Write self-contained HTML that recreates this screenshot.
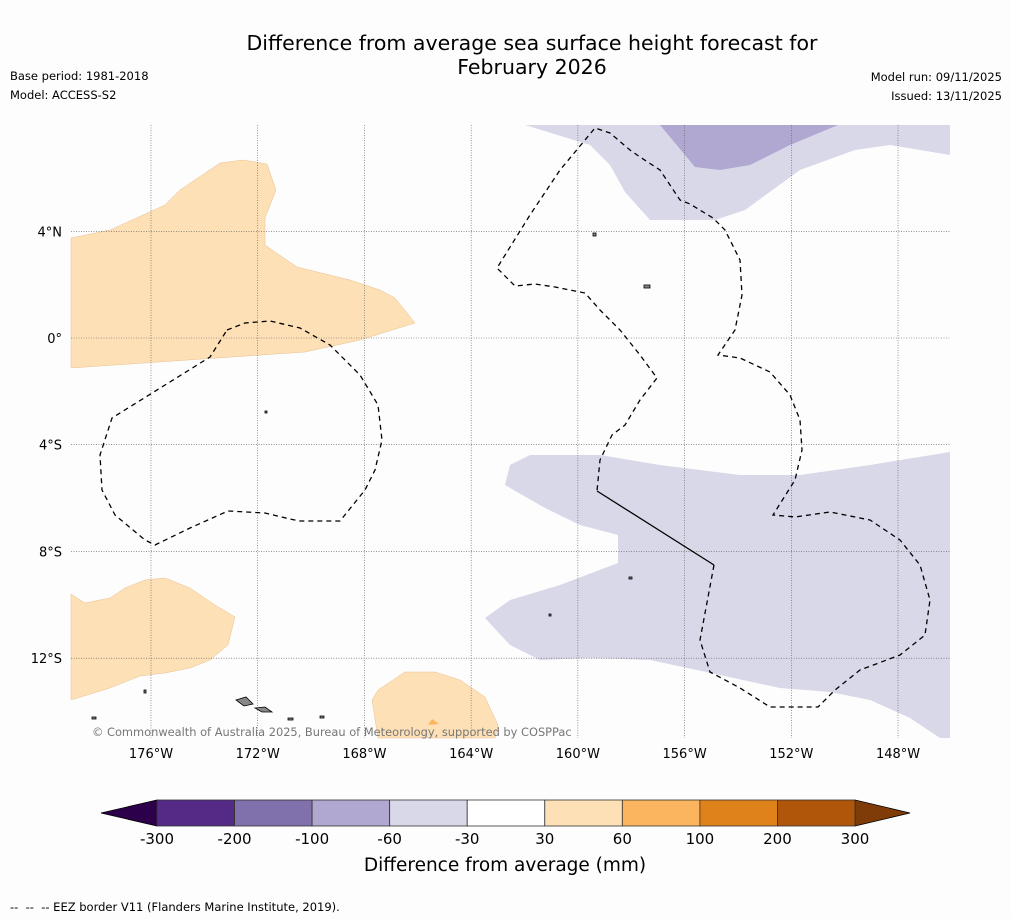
<!DOCTYPE html>
<html><head><meta charset="utf-8">
<style>
body{margin:0;background:#fdfdfd;font-family:"Liberation Sans","DejaVu Sans",sans-serif;}
#root{position:relative;width:1011px;height:919px;overflow:hidden;background:#fdfdfd;}
.t{position:absolute;font-family:"DejaVu Sans","Liberation Sans",sans-serif;color:#000;}
</style></head>
<body><div id="root">
<div class="t" style="left:182px;top:31px;width:700px;text-align:center;font-size:20.5px;line-height:24px;">Difference from average sea surface height forecast for<br>February 2026</div>
<div class="t" style="left:10px;top:69px;font-size:11.5px;">Base period: 1981-2018</div>
<div class="t" style="left:10px;top:88px;font-size:11.5px;">Model: ACCESS-S2</div>
<div class="t" style="right:9px;top:70px;font-size:11.5px;">Model run: 09/11/2025</div>
<div class="t" style="right:9px;top:89px;font-size:11.5px;">Issued: 13/11/2025</div>
<svg id="map" width="1011" height="919" style="position:absolute;left:0;top:0">
<g>
<polygon fill="#fde0b6" stroke="#e8c090" stroke-width="0.5" points="71,238 110,230 165,205 180,190 220,163 243,160 267,164 276,190 265,218 265,245 297,267 350,280 380,290 395,298 415,323 360,340 305,352 71,368"/>
<polygon fill="#fde0b6" stroke="#e8c090" stroke-width="0.5" points="71,594 85,603 110,598 125,588 145,580 165,578 190,588 215,605 235,617 228,645 210,660 190,668 165,673 140,676 110,688 71,700"/>
<polygon fill="#fde0b6" stroke="#e8c090" stroke-width="0.5" points="378,690 405,672 435,672 460,680 485,697 498,725 495,738 378,738 372,700"/>
<polygon fill="#fbb55f" points="428,725 432,719 439,724"/>
<polygon fill="#d9d8e9" points="525,125 950,125 950,155 890,145 855,150 800,170 745,210 715,220 650,220 625,192 610,165 590,145"/>
<polygon fill="#b0a8d0" points="660,125 838,125 790,145 750,165 720,170 695,167"/>
<polygon fill="#d9d8e9" points="510,465 530,455 600,455 660,465 740,475 800,475 870,465 950,452 950,738 940,738 910,718 870,700 830,692 780,688 720,675 650,660 590,658 540,660 510,645 485,618 510,600 560,585 618,563 618,535 580,525 545,508 505,485"/>
</g>
<g id="grid" stroke="#555" stroke-width="0.6" stroke-dasharray="1,1.5"></g>
<g fill="none" stroke="#000" stroke-width="1.3">
<polygon stroke-dasharray="5,4" points="227,330 245,323 270,321 300,328 330,345 360,375 378,405 382,440 375,470 365,490 340,521 300,521 290,519 265,513 228,511 190,528 155,545 145,540 115,515 102,490 100,455 112,418 165,385 210,357"/>
<polyline stroke-dasharray="5,4" points="714,565 700,640 710,672 740,688 770,707 818,707 835,690 860,670 900,655 925,635 930,600 920,565 900,540 870,520 830,512 795,517 773,515 795,480 802,450 800,420 790,395 770,372 740,358 718,355 735,330 742,295 740,260 725,230 713,218 690,204 680,200 660,170 640,157 630,150 610,133 595,128 560,170 530,215 497,268 515,286 535,284 555,287 585,293 600,310 620,330 640,355 657,378 640,400 625,425 612,435 600,460 597,491"/>
<polyline points="597,491 714,565"/>
</g>
<g fill="#888" stroke="#000" stroke-width="0.8">
<polygon points="236,700 246,697 253,704 244,706"/><polygon points="255,708 265,707 272,712 262,712"/>
<rect x="265" y="411" width="2" height="2"/><rect x="593" y="233" width="3" height="3"/><rect x="644" y="285" width="6" height="3"/>
<rect x="629" y="577" width="3" height="2"/><rect x="549" y="614" width="2" height="2"/><rect x="144" y="690" width="2" height="3"/>
<rect x="92" y="717" width="4" height="2"/><rect x="288" y="718" width="5" height="2"/><rect x="320" y="716" width="4" height="2"/>
</g>
<text x="92" y="736" font-size="11.4" fill="#777" font-family="DejaVu Sans,Liberation Sans,sans-serif">© Commonwealth of Australia 2025, Bureau of Meteorology, supported by COSPPac</text>
<g id="axes" font-family="DejaVu Sans,Liberation Sans,sans-serif" font-size="13"></g>
<g id="cbar" font-family="DejaVu Sans,Liberation Sans,sans-serif"></g>
<text x="505" y="871" text-anchor="middle" font-size="18.5" font-family="DejaVu Sans,Liberation Sans,sans-serif">Difference from average (mm)</text>
<text x="10" y="911" font-size="11.5" font-family="DejaVu Sans,Liberation Sans,sans-serif" xml:space="preserve">--  --  -- EEZ border V11 (Flanders Marine Institute, 2019).</text>
</svg>
</div>
<script>
const lonTicks=[-176,-172,-168,-164,-160,-156,-152,-148];
const latTicks=[4,0,-4,-8,-12];
const cbarLabels=["-300","-200","-100","-60","-30","30","60","100","200","300"];
const cbarColors=["#552a87","#8070ab","#b0a8d0","#d9d8e9","#ffffff","#fde0b6","#fbb55f","#e0821a","#b0560a"];
const cbarLow="#2d004b", cbarHigh="#7f3b08";
const NS="http://www.w3.org/2000/svg";
const X0=71,X1=950,Y0=125,Y1=738;
const xOf=lon=>151+(lon+176)*26.68;
const yOf=lat=>338-lat*26.68;
function mk(tag,attrs,parent){const e=document.createElementNS(NS,tag);for(const k in attrs)e.setAttribute(k,attrs[k]);parent.appendChild(e);return e;}
const grid=document.getElementById('grid'),axes=document.getElementById('axes');
lonTicks.forEach(l=>{const x=xOf(l);
 const g=mk('line',{x1:x,x2:x,y1:Y0,y2:Y1},grid);
 
 
 const t=mk('text',{x:x,y:758,'text-anchor':'middle'},axes);t.textContent=Math.abs(l)+'°W';
 
 });
latTicks.forEach(l=>{const y=yOf(l);
 const g=mk('line',{x1:X0,x2:X1,y1:y,y2:y},grid);
 
 
 const t=mk('text',{x:62,y:y+5,'text-anchor':'end'},axes);t.textContent=l===0?'0°':Math.abs(l)+'°'+(l>0?'N':'S');
 
 });
const cb=document.getElementById('cbar');
const cx0=157,cx1=855,cy0=800,cy1=826,n=cbarColors.length,w=(cx1-cx0)/n;
const lo=mk('polygon',{points:`${cx0},${cy0} ${cx0},${cy1} 101,813`,fill:cbarLow,stroke:'#000','stroke-width':0.8},cb);


const hi=mk('polygon',{points:`${cx1},${cy0} ${cx1},${cy1} 910,813`,fill:cbarHigh,stroke:'#000','stroke-width':0.8},cb);


cbarColors.forEach((c,i)=>{const r=mk('rect',{x:cx0+i*w,y:cy0,width:w,height:cy1-cy0,fill:c,stroke:'#333','stroke-width':0.8},cb);
 
 });
cbarLabels.forEach((s,i)=>{const t=mk('text',{x:cx0+i*w,y:844,'text-anchor':'middle','font-size':15},cb);t.textContent=s;
 
 });
</script>
</body></html>
